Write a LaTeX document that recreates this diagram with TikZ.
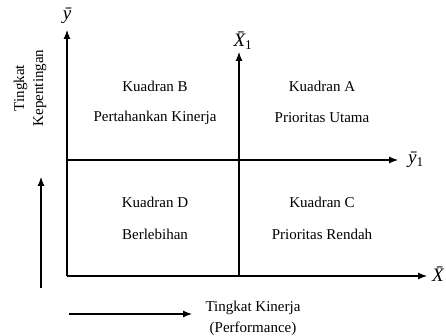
\documentclass[tikz,border=0pt]{standalone}
\usepackage{fontspec}
\setmainfont{Liberation Serif}
\usetikzlibrary{arrows.meta}
\begin{document}
\begin{tikzpicture}[x=1pt,y=-1pt,
  axis/.style={line width=1.1pt,-{Latex[length=9pt,width=7pt]}},
  lbl/.style={font=\fontsize{15}{18}\selectfont,inner sep=0pt},
  mlbl/.style={font=\fontsize{19}{20}\selectfont\itshape,inner sep=0pt}]
\useasboundingbox (0,0) rectangle (446,336);
\coordinate (O) at (67,276);
\coordinate (ytop) at (67,30);
\coordinate (xend) at (427,276);
\coordinate (mbot) at (239,276);
\coordinate (mtop) at (239,52);
\coordinate (hl) at (67,160);
\coordinate (hr) at (398,160);
\draw[axis] (O) -- (ytop);
\draw[axis] (O) -- (xend);
\draw[axis] (mbot) -- (mtop);
\draw[axis] (hl) -- (hr);
\node[mlbl] (ly) at (67,16) {\={y}};
\node[mlbl] (lx) at (438,274) {\={X}};
\node[mlbl] (lx1) at (243,41) {\={X}\textsubscript{\upshape 1}};
\node[mlbl] (ly1) at (416,160) {\={y}\textsubscript{\upshape 1}};
\node[lbl] (kb) at (155,86) {Kuadran B};
\node[lbl] (pk) at (155,118) {Pertahankan Kinerja};
\node[lbl] (ka) at (322,86) {Kuadran A};
\node[lbl] (pu) at (322,118) {Prioritas Utama};
\node[lbl] (kd) at (155,202) {Kuadran D};
\node[lbl] (bl) at (155,234) {Berlebihan};
\node[lbl] (kc) at (322,202) {Kuadran C};
\node[lbl] (pr) at (322,234) {Prioritas Rendah};
\node[lbl,rotate=90,align=center,font=\fontsize{15}{19}\selectfont] (tk) at (30,88) {Tingkat\\Kepentingan};
\coordinate (va) at (41,288);
\coordinate (vb) at (41,177);
\draw[axis] (va) -- (vb);
\coordinate (ha) at (69,314);
\coordinate (hb) at (192,314);
\draw[axis] (ha) -- (hb);
\node[lbl,align=center,font=\fontsize{15}{21}\selectfont] (tkin) at (253,318) {Tingkat Kinerja\\(Performance)};
\end{tikzpicture}
\end{document}
